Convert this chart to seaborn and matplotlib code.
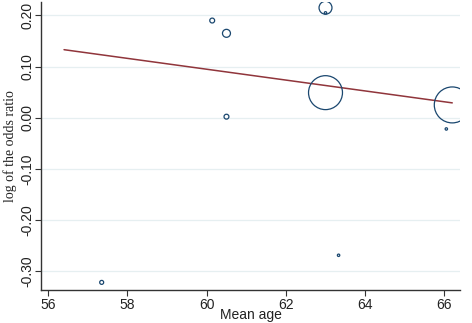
import numpy as np
import pandas as pd
import seaborn as sns
import matplotlib.pyplot as plt
from matplotlib.ticker import FormatStrFormatter

# study-level data
mean_age = [57.35, 60.14, 60.50, 60.50, 63.00, 63.00, 63.00, 63.33, 66.20, 66.05]
log_or = [-0.322, 0.190, 0.165, 0.002, 0.215, 0.205, 0.049, -0.269, 0.025, -0.022]
weight = [4, 6, 16, 6, 42, 1.5, 289, 1.5, 324, 1.5]

# fitted meta-regression line (endpoints)
fit_x = [56.4, 66.2]
fit_y = [0.133, 0.029]

x_ticks = [56, 58, 60, 62, 64, 66]
y_ticks = [-0.30, -0.20, -0.10, 0.00, 0.10, 0.20]

df = pd.DataFrame({'age': mean_age, 'lor': log_or, 'w': weight})
fit = pd.DataFrame({'age': fit_x, 'lor': fit_y})

sns.set_style('white')
plt.rcParams['font.family'] = ['Liberation Sans', 'DejaVu Sans']

fig = plt.figure(figsize=(4.72, 3.23), dpi=100)
ax = fig.add_axes([0.087, 0.102, 0.888, 0.893])

for yt in y_ticks:
    ax.axhline(yt, color='#e6eff1', lw=0.9, zorder=0)

sns.scatterplot(data=df, x='age', y='lor', size='w', sizes=(3, 670),
                size_norm=(1.5, 324), facecolor='none', edgecolor='#1a476f',
                linewidth=0.9, legend=False, ax=ax, zorder=3)
sns.lineplot(data=fit, x='age', y='lor', color='#90353b', lw=1.1, ax=ax, zorder=2)

ax.set_xlim(55.82, 66.4)
ax.set_ylim(-0.337, 0.227)
ax.set_xticks(x_ticks)
ax.set_yticks(y_ticks)
ax.yaxis.set_major_formatter(FormatStrFormatter('%.2f'))
ax.tick_params(axis='both', direction='out', length=4, width=0.8, color='#333333',
               labelsize=10, labelcolor='#222222', left=True, bottom=True, pad=2)
ax.tick_params(axis='y', pad=1)
for lab in ax.get_yticklabels():
    lab.set_rotation(90)
    lab.set_va('center')

ax.set_xlabel('Mean age', fontsize=10, color='#222222', labelpad=-3)
ax.set_ylabel('log of the odds ratio', fontsize=10, family='Liberation Serif',
              color='#222222', labelpad=2)

sns.despine(ax=ax)
for s in ['left', 'bottom']:
    ax.spines[s].set_color('#333333')
    ax.spines[s].set_linewidth(1.0)

plt.savefig('out.png', dpi=100)
